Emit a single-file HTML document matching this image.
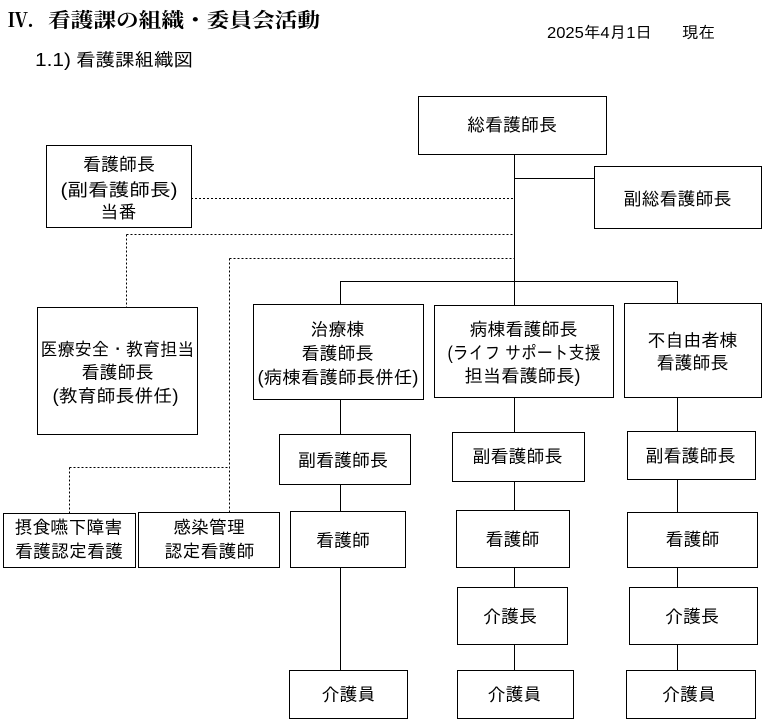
<!DOCTYPE html>
<html lang="ja">
<head>
<meta charset="utf-8">
<style>
  html, body { margin: 0; padding: 0; background: #fff; }
  svg { display: block; }
  .bx { font-family: "Liberation Sans", "IPAGothic", "Noto Sans CJK JP", sans-serif; font-size: 18px; fill: #000; }
  .sf { font-family: "Liberation Serif", "Noto Serif CJK SC", serif; fill: #000; }
  .ss { font-family: "Liberation Sans", "IPAGothic", "Noto Sans CJK JP", sans-serif; fill: #000; }
</style>
</head>
<body>
<svg width="769" height="727" viewBox="0 0 769 727" xmlns="http://www.w3.org/2000/svg">
  <rect x="0" y="0" width="769" height="727" fill="#fff"/>

  <!-- Headings -->
  <text class="sf" font-weight="bold" font-size="20" y="27">
    <tspan x="8">Ⅳ.</tspan><tspan x="48" textLength="272" lengthAdjust="spacingAndGlyphs">看護課の組織・委員会活動</tspan>
  </text>
  <text class="ss" font-size="18" y="66">
    <tspan x="35" textLength="36" lengthAdjust="spacingAndGlyphs">1.1)</tspan><tspan x="76" textLength="117" lengthAdjust="spacingAndGlyphs">看護課組織図</tspan>
  </text>
  <text class="ss" font-size="16" y="38">
    <tspan x="547" textLength="105" lengthAdjust="spacingAndGlyphs">2025年4月1日</tspan><tspan x="682" textLength="33" lengthAdjust="spacingAndGlyphs">現在</tspan>
  </text>

  <!-- Solid connectors -->
  <g stroke="#000" stroke-width="1" fill="none" shape-rendering="crispEdges">
    <line x1="514.5" y1="154" x2="514.5" y2="305"/>
    <line x1="514.5" y1="178.5" x2="594" y2="178.5"/>
    <line x1="340.5" y1="281.5" x2="677.5" y2="281.5"/>
    <line x1="340.5" y1="281" x2="340.5" y2="304"/>
    <line x1="677.5" y1="281" x2="677.5" y2="303"/>

    <line x1="340.5" y1="399" x2="340.5" y2="434"/>
    <line x1="340.5" y1="484" x2="340.5" y2="511"/>
    <line x1="340.5" y1="567" x2="340.5" y2="670"/>

    <line x1="514.5" y1="397" x2="514.5" y2="432"/>
    <line x1="514.5" y1="481" x2="514.5" y2="510"/>
    <line x1="514.5" y1="567" x2="514.5" y2="587"/>
    <line x1="514.5" y1="644" x2="514.5" y2="670"/>

    <line x1="677.5" y1="397" x2="677.5" y2="431"/>
    <line x1="677.5" y1="479" x2="677.5" y2="512"/>
    <line x1="677.5" y1="567" x2="677.5" y2="587"/>
    <line x1="677.5" y1="644" x2="677.5" y2="670"/>
  </g>

  <!-- Dotted connectors -->
  <g stroke="#000" stroke-width="1" fill="none" stroke-dasharray="2,2" shape-rendering="crispEdges">
    <line x1="191" y1="198.5" x2="514" y2="198.5"/>
    <line x1="126.5" y1="234.5" x2="514" y2="234.5"/>
    <line x1="126.5" y1="234.5" x2="126.5" y2="307"/>
    <line x1="229.5" y1="258.5" x2="514" y2="258.5"/>
    <line x1="229.5" y1="258.5" x2="229.5" y2="512"/>
    <line x1="69.5" y1="467.5" x2="229.5" y2="467.5"/>
    <line x1="69.5" y1="467.5" x2="69.5" y2="513"/>
  </g>

  <!-- Boxes -->
  <g stroke="#000" stroke-width="1" fill="#fff" shape-rendering="crispEdges">
    <rect x="418.5" y="96.5" width="188" height="58"/>
    <rect x="594.5" y="166.5" width="167" height="62"/>
    <rect x="46.5" y="145.5" width="145" height="82"/>
    <rect x="37.5" y="307.5" width="160" height="127"/>
    <rect x="253.5" y="304.5" width="170" height="95"/>
    <rect x="434.5" y="305.5" width="179" height="92"/>
    <rect x="624.5" y="303.5" width="137" height="94"/>
    <rect x="279.5" y="434.5" width="131" height="50"/>
    <rect x="452.5" y="432.5" width="132" height="49"/>
    <rect x="627.5" y="431.5" width="128" height="48"/>
    <rect x="3.5" y="513.5" width="132" height="54"/>
    <rect x="138.5" y="512.5" width="141" height="55"/>
    <rect x="290.5" y="511.5" width="115" height="56"/>
    <rect x="456.5" y="510.5" width="113" height="57"/>
    <rect x="627.5" y="512.5" width="130" height="55"/>
    <rect x="457.5" y="587.5" width="110" height="57"/>
    <rect x="629.5" y="587.5" width="128" height="57"/>
    <rect x="289.5" y="670.5" width="118" height="48"/>
    <rect x="457.5" y="670.5" width="116" height="48"/>
    <rect x="626.5" y="670.5" width="129" height="48"/>
  </g>

  <!-- Box text -->
  <g class="bx" text-anchor="middle">
    <text x="512" y="131">総看護師長</text>
    <text x="677.5" y="205">副総看護師長</text>

    <text x="119" y="170.5">看護師長</text>
    <text x="119" y="196" textLength="117" lengthAdjust="spacingAndGlyphs">(副看護師長)</text>
    <text x="118.5" y="218">当番</text>

    <text x="117.5" y="355.5" textLength="154" lengthAdjust="spacingAndGlyphs">医療安全・教育担当</text>
    <text x="117.5" y="378.5">看護師長</text>
    <text x="115.5" y="402" textLength="126" lengthAdjust="spacingAndGlyphs">(教育師長併任)</text>

    <text x="337.5" y="335.5">治療棟</text>
    <text x="337.5" y="359.5">看護師長</text>
    <text x="338" y="383.5" textLength="161" lengthAdjust="spacingAndGlyphs">(病棟看護師長併任)</text>

    <text x="523.5" y="335.5">病棟看護師長</text>
    <text x="524" y="359" textLength="153" lengthAdjust="spacingAndGlyphs">(ライフ サポート支援</text>
    <text x="522.5" y="382" textLength="116" lengthAdjust="spacingAndGlyphs">担当看護師長)</text>

    <text x="692.5" y="346.5" textLength="90" lengthAdjust="spacingAndGlyphs">不自由者棟</text>
    <text x="692.5" y="369">看護師長</text>

    <text x="343" y="466.5">副看護師長</text>
    <text x="517.5" y="462.5">副看護師長</text>
    <text x="690.5" y="462">副看護師長</text>

    <text x="68.5" y="533.5">摂食嚥下障害</text>
    <text x="69" y="557.5">看護認定看護</text>
    <text x="209" y="533.5">感染管理</text>
    <text x="209.5" y="557.5">認定看護師</text>

    <text x="343" y="546.5">看護師</text>
    <text x="512.5" y="545.5">看護師</text>
    <text x="692.5" y="545.5">看護師</text>

    <text x="510" y="622.5">介護長</text>
    <text x="692" y="622.5">介護長</text>

    <text x="348.5" y="700.5">介護員</text>
    <text x="514.5" y="700.5">介護員</text>
    <text x="689" y="700.5">介護員</text>
  </g>
</svg>
</body>
</html>
